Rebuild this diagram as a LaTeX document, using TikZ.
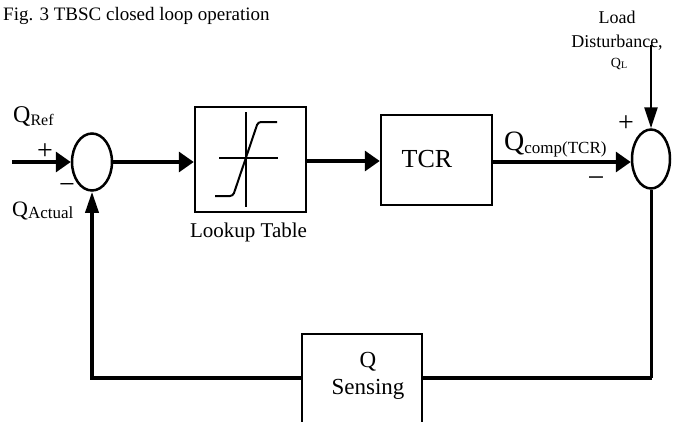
\documentclass[tikz,border=0pt]{standalone}
\usepackage{fontspec}
\setmainfont{Liberation Serif}
\usetikzlibrary{arrows.meta,shapes.geometric}
\newcommand\fsz[1]{\fontsize{#1}{#1}\selectfont}
\tikzset{
  block/.style={draw, line width=2.5pt, inner sep=0pt},
  sumnode/.style={draw, ellipse, line width=2.5pt, inner sep=0pt},
  sig/.style={line width=3.5pt, -{Triangle[length=15pt,width=20pt]}},
  sigv/.style={line width=3pt, -{Triangle[length=21pt,width=13pt]}},
  fb/.style={line width=3.5pt},
  lbl/.style={inner sep=0pt, anchor=base west},
  lblc/.style={inner sep=0pt, anchor=base},
}
\begin{document}
\begin{tikzpicture}[x=1pt,y=-1pt]
\path[use as bounding box, clip] (0,0) rectangle (673,421);
\fill[white] (0,0) rectangle (673,421);

% title
\node[lbl] (title) at (3,20) {\fsz{19}Fig. 3 TBSC closed loop operation};

% summing junctions
\node[sumnode, minimum width=40pt, minimum height=57pt] (sumL) at (92,162) {};
\node[sumnode, minimum width=38pt, minimum height=59pt] (sumR) at (651,159) {};

% blocks
\node[block, minimum width=111pt, minimum height=105pt] (lut) at (250.5,159.5) {};
\node[block, minimum width=111pt, minimum height=90pt] (tcr) at (436.5,160) {};
\node[block, minimum width=120pt, minimum height=90pt] (sens) at (362,379) {};

% saturation curve of the lookup table
\draw[line width=1.6pt] (245.7,112) -- (245.7,207);
\draw[line width=1.6pt] (219,158) -- (278,158);
\draw[line width=2pt, rounded corners=3pt] (215,196) -- (233,196) -- (258,122) -- (277,122);

% block texts
\node[lblc] (lutlbl) at (248.5,237) {\fsz{21}Lookup Table};
\node[lblc] (tcrlbl) at (427,167) {\fsz{26}TCR};
\node[lblc] (senslbl1) at (368,367) {\fsz{23}Q};
\node[lblc] (senslbl2) at (368,394) {\fsz{23}Sensing};

% signal labels
\node[lbl] (qref) at (13,122) {\fsz{24}Q\raisebox{-3pt}{\fsz{16}Ref}};
\node[lbl] (qact) at (12,216) {\fsz{22}Q\raisebox{-2pt}{\fsz{17}Actual}};
\node[lbl] (qcomp) at (504,150) {\fsz{28}Q\raisebox{-3pt}{\fsz{17}comp(TCR)}};
\node[lblc] (ld1) at (617,23) {\fsz{18}Load};
\node[lblc] (ld2) at (617,47) {\fsz{18}Disturbance,};
\node[lblc] (ld3) at (619,67) {\fsz{14}Q\raisebox{-1.5pt}{\fsz{10}L}};

% signs
\node[inner sep=0pt] (plusL) at (45,152) {\fsz{28}+};
\node[inner sep=0pt] (minusL) at (67,188) {\fsz{28}−};
\node[inner sep=0pt] (plusR) at (626,124) {\fsz{28}+};
\node[inner sep=0pt] (minusR) at (596,182) {\fsz{30}−};

% forward path
\coordinate (qin) at (12,162);
\draw[sig] (qin) -- (sumL.west);
\draw[sig] (sumL.east) -- (lut.west |- sumL.east);
\draw[sig] (lut.east |- 0,161) -- (tcr.west |- 0,161);
\draw[sig] (tcr.east |- 0,162) -- (sumR.west |- 0,162);

% disturbance input
\coordinate (ldtop) at (651,45);
\draw[sigv, line width=2.5pt] (ldtop) -- (sumR.north);

% feedback path
\draw[line width=3pt] (sumR.south) -- (651,378);
\draw[fb] (651.5,378) -- (sens.east |- 0,378);
\draw[fb] (sens.west |- 0,378) -- (92,378);
\draw[sigv, line width=3.5pt] (92,379.75) -- (sumL.south);
\end{tikzpicture}
\end{document}
